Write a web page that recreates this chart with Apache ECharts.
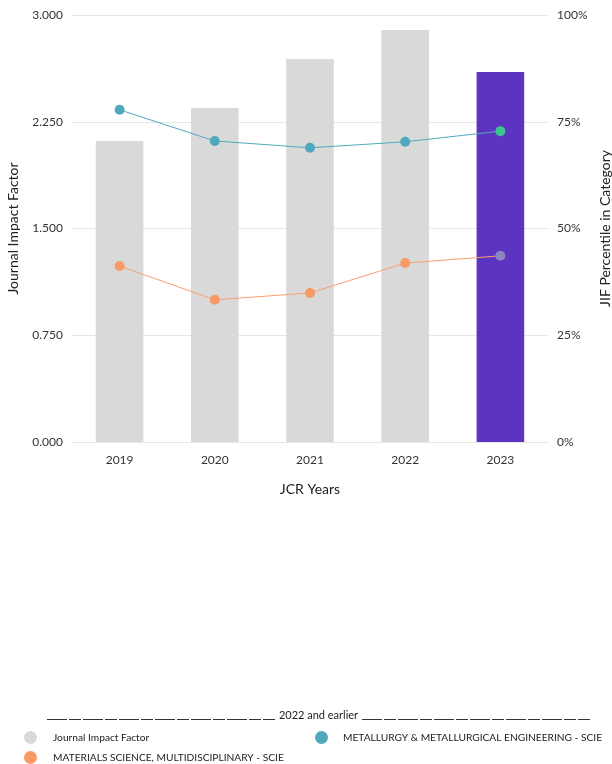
<!DOCTYPE html>
<html><head><meta charset="utf-8">
<script src="https://cdn.jsdelivr.net/npm/echarts@6/dist/echarts.min.js"></script>
<style>html,body{margin:0;padding:0;background:#fff}#c{width:612px;height:764px}</style>
</head><body><div id="c"></div>
<script>
const years = ['2019','2020','2021','2022','2023'];
const jif = [2.115, 2.347, 2.691, 2.895, 2.600];
const metallurgy = [77.8, 70.5, 68.9, 70.3, 72.8];
const materials = [41.2, 33.3, 34.9, 41.9, 43.6];
const leftTicks = ['0.000','0.750','1.500','2.250','3.000'];
const rightTicks = ['0%','25%','50%','75%','100%'];
const names = ['Journal Impact Factor','METALLURGY & METALLURGICAL ENGINEERING - SCIE','MATERIALS SCIENCE, MULTIDISCIPLINARY - SCIE'];

const FONT = 'Lato';
const chart = echarts.init(document.getElementById('c'));
const lastIdx = years.length - 1;
const legendText = (pad) => ({fontFamily: FONT, fontSize: 10.2, color: '#222', padding: [0,0,0,pad]});
const legendBase = {icon: 'circle', itemWidth: 13, itemHeight: 13, padding: 0, selectedMode: false};
chart.setOption({
  animation: false,
  textStyle: {fontFamily: FONT},
  grid: {left: 72, right: 64, top: 15, bottom: 322, outerBoundsMode: 'none', containLabel: false},
  legend: [
    Object.assign({data: [names[0]], left: 24, top: 731, textStyle: legendText(11)}, legendBase),
    Object.assign({data: [names[1]], left: 315, top: 731, textStyle: legendText(10)}, legendBase),
    Object.assign({data: [names[2]], left: 24, top: 751, textStyle: legendText(11)}, legendBase)
  ],
  xAxis: {
    type: 'category', data: years,
    name: 'JCR Years', nameLocation: 'middle', nameGap: 40,
    nameTextStyle: {fontFamily: FONT, fontSize: 14, color: '#222'},
    axisLine: {show: true, lineStyle: {color: '#e6e6e6'}},
    axisTick: {show: false},
    axisLabel: {fontFamily: FONT, fontSize: 12, color: '#333', margin: 12}
  },
  yAxis: [
    {
      type: 'value', min: 0, max: 3, interval: 0.75,
      name: 'Journal Impact Factor', nameLocation: 'middle', nameGap: 52,
      nameTextStyle: {fontFamily: FONT, fontSize: 14, color: '#222'},
      axisLine: {show: false}, axisTick: {show: false},
      splitLine: {lineStyle: {color: '#e6e6e6'}},
      axisLabel: {fontFamily: FONT, fontSize: 12, color: '#333', margin: 9,
        formatter: (v) => leftTicks[Math.round(v / 0.75)]}
    },
    {
      type: 'value', min: 0, max: 100, interval: 25,
      name: 'JIF Percentile in Category', nameLocation: 'middle', nameGap: 50,
      nameRotate: 90,
      nameTextStyle: {fontFamily: FONT, fontSize: 14, color: '#222'},
      axisLine: {show: false}, axisTick: {show: false},
      splitLine: {show: false},
      axisLabel: {fontFamily: FONT, fontSize: 12, color: '#333', margin: 9,
        formatter: (v) => rightTicks[Math.round(v / 25)]}
    }
  ],
  series: [
    {
      name: names[0], type: 'bar', yAxisIndex: 0, barWidth: '50%',
      itemStyle: {color: '#d9d9d9'},
      data: jif.map((v, i) => i === lastIdx ? {value: v, itemStyle: {color: '#5c34bf'}} : v)
    },
    {
      name: names[1], type: 'line', yAxisIndex: 1, symbol: 'circle', symbolSize: 10,
      lineStyle: {color: '#4fa9bc', width: 1}, itemStyle: {color: '#4fa9bc'},
      data: metallurgy.map((v, i) => i === lastIdx ? {value: v, itemStyle: {color: '#3ec48e'}} : v)
    },
    {
      name: names[2], type: 'line', yAxisIndex: 1, symbol: 'circle', symbolSize: 10,
      lineStyle: {color: '#f7a06f', width: 1}, itemStyle: {color: '#f79a66'},
      data: materials.map((v, i) => i === lastIdx ? {value: v, itemStyle: {color: '#8c87c2'}} : v)
    }
  ],
  graphic: [
    {type: 'line', shape: {x1: 47, y1: 719.5, x2: 275, y2: 719.5}, style: {stroke: '#333', lineWidth: 1, lineDash: [20, 2, 12, 2]}},
    {type: 'line', shape: {x1: 362, y1: 719.5, x2: 590, y2: 719.5}, style: {stroke: '#333', lineWidth: 1, lineDash: [20, 2, 12, 2]}},
    {type: 'text', x: 318.5, y: 715, style: {text: '2022 and earlier', fontFamily: FONT, fontSize: 11, fill: '#222', align: 'center', verticalAlign: 'middle'}}
  ]
});
</script></body></html>
